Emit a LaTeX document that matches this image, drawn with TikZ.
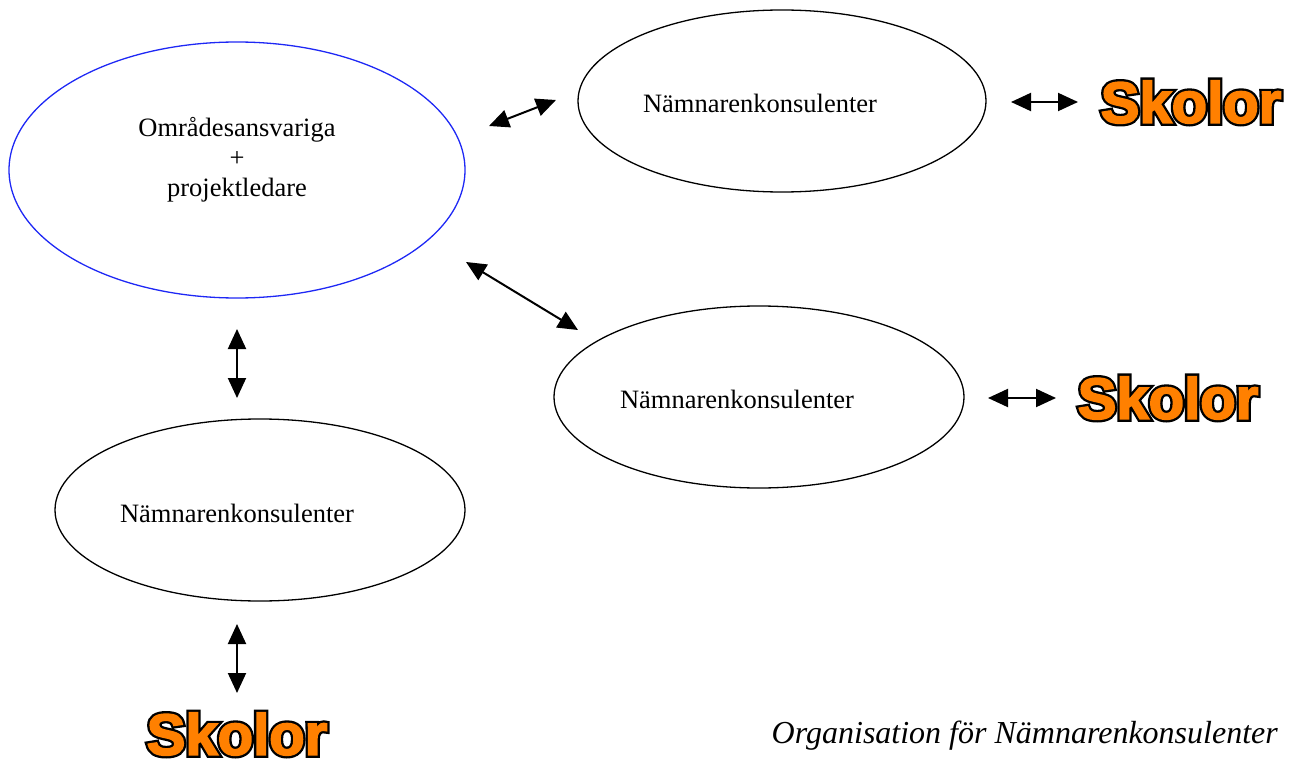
\documentclass[tikz,border=0pt]{standalone}
\usepackage{fontspec}
\setmainfont{Liberation Serif}
\newfontfamily\skolblack[FakeBold=11]{Liberation Sans Bold}
\newfontfamily\skolorng[FakeBold=3]{Liberation Sans Bold}
\usetikzlibrary{arrows.meta}
\definecolor{skolorange}{RGB}{255,128,0}
\definecolor{ellblue}{RGB}{30,40,245}
\begin{document}
\begin{tikzpicture}[x=1pt,y=-1pt,
  lbl/.style={font=\fontsize{26.5}{30}\selectfont,align=center,inner sep=0pt},
  dbl/.style={line width=2pt,{Triangle[length=20pt,width=18pt]}-{Triangle[length=20pt,width=18pt]}},
  skb/.style={font=\fontsize{58}{60}\skolblack,text=black,inner sep=0pt},
  sko/.style={font=\fontsize{58}{60}\skolorng,text=skolorange,inner sep=0pt}]
\useasboundingbox (0,0) rectangle (1294,765);
% ellipses
\draw[line width=1.3pt,ellblue] (237,170) ellipse [x radius=228,y radius=128];
\draw[line width=1.3pt] (782,101) ellipse [x radius=204,y radius=91];
\draw[line width=1.3pt] (759,397) ellipse [x radius=205,y radius=91];
\draw[line width=1.3pt] (260,510) ellipse [x radius=205,y radius=91];
% labels
\node[lbl] (t1) at (237,160) {Områdesansvariga\\+\\projektledare};
\node[lbl] (t2) at (760,103) {Nämnarenkonsulenter};
\node[lbl] (t3) at (737,399) {Nämnarenkonsulenter};
\node[lbl] (t4) at (237,513) {Nämnarenkonsulenter};
% Skolor
\node[skb] (s1b) at (1191,102) {Skolor};
\node[sko] (s1) at (1191,102) {Skolor};
\node[skb] (s2b) at (1168,398) {Skolor};
\node[sko] (s2) at (1168,398) {Skolor};
\node[skb] (s3b) at (237,734) {Skolor};
\node[sko] (s3) at (237,734) {Skolor};
% arrows
\coordinate (a1a) at (489,126);
\coordinate (a1b) at (556,100);
\coordinate (a2a) at (1011,102);
\coordinate (a2b) at (1078,102);
\coordinate (a3a) at (466,262);
\coordinate (a3b) at (578,330);
\coordinate (a4a) at (237,329);
\coordinate (a4b) at (237,398);
\coordinate (a5a) at (988,398);
\coordinate (a5b) at (1056,398);
\coordinate (a6a) at (237,624);
\coordinate (a6b) at (237,693);
\draw[dbl] (a1a) -- (a1b);
\draw[dbl] (a2a) -- (a2b);
\draw[dbl] (a3a) -- (a3b);
\draw[dbl] (a4a) -- (a4b);
\draw[dbl] (a5a) -- (a5b);
\draw[dbl] (a6a) -- (a6b);
% caption
\node[font=\fontsize{32}{36}\selectfont\itshape,anchor=base east,inner sep=0pt] (cap) at (1278,743) {Organisation för Nämnarenkonsulenter};
\end{tikzpicture}
\end{document}
